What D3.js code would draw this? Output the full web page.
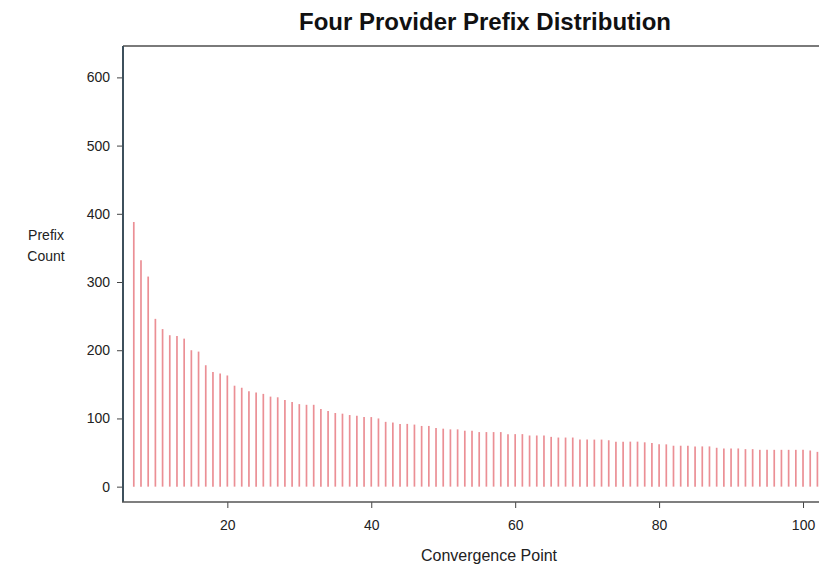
<!DOCTYPE html>
<html>
<head>
<meta charset="utf-8">
<script src="https://cdn.jsdelivr.net/npm/d3@7"></script>
<style>
  body { margin: 0; background: #fff; }
  text { font-family: "Liberation Sans", Arial, sans-serif; }
</style>
</head>
<body>
<div id="my_dataviz"></div>
<script>

// convergence points start at 7, one bar per point
var firstPoint = 7;
var counts = [388, 332, 308, 246, 231, 222, 221, 217, 200, 198,
              178, 168, 166, 163, 148, 145, 140, 138, 136, 132,
              131, 127, 124, 121, 120, 120, 114, 111, 108, 107,
              105, 104, 102, 102, 100, 95, 94, 92, 92, 91,
              89, 89, 86, 85, 84, 84, 82, 82, 80, 80,
              80, 80, 77, 77, 77, 75, 75, 75, 73, 72,
              72, 72, 69, 69, 69, 69, 68, 66, 66, 66,
              66, 65, 64, 62, 62, 60, 60, 60, 59, 59,
              59, 57, 56, 56, 56, 55, 55, 54, 54, 54,
              54, 54, 54, 54, 53, 51];
var points = d3.range(firstPoint, firstPoint + counts.length);

var xTicks = [20, 40, 60, 80, 100];
var yTicks = [0, 100, 200, 300, 400, 500, 600];

// set the dimensions and margins of the graph
var margin = {top: 46, right: 0, bottom: 65, left: 123},
  width = 716,
  height = 567 - margin.top - margin.bottom;

var svg = d3.select("#my_dataviz")
.append("svg")
  .attr("width", 819)
  .attr("height", 567)
.append("g")
  .attr("transform", "translate(" + margin.left + "," + margin.top + ")");

var x = d3.scaleLinear()
  .domain([5.5, 105])
  .range([0, width]);

var y = d3.scaleLinear()
  .domain([-22.5, 646])
  .range([height, 0]);

// bars (drawn as thin lines from zero)
svg.selectAll("line.bar")
  .data(points)
  .enter()
  .append("line")
    .attr("class", "bar")
    .attr("x1", function(d){ return x(d) })
    .attr("x2", function(d){ return x(d) })
    .attr("y1", y(0))
    .attr("y2", function(d, i){ return y(counts[i]) })
    .style("stroke", "#eb8f95")
    .style("stroke-width", 1.7);

// frame
svg.append("line")
  .attr("x1", 0).attr("x2", width + 10)
  .attr("y1", 0).attr("y2", 0)
  .style("stroke", "#7a7a7a")
  .style("stroke-width", 2);

// y axis
var yAxis = svg.append("g")
  .call(d3.axisLeft(y).tickValues(yTicks).tickSize(6).tickPadding(7));
yAxis.select(".domain").remove();
yAxis.selectAll(".tick line").style("stroke", "#444");
yAxis.selectAll("text")
  .attr("font-size", 14)
  .attr("font-family", "Liberation Sans, Arial, sans-serif")
  .style("fill", "#222");

svg.append("line")
  .attr("x1", 0).attr("x2", 0)
  .attr("y1", 0).attr("y2", height)
  .style("stroke", "#3e505c")
  .style("stroke-width", 2);

// x axis
var xAxis = svg.append("g")
  .attr("transform", "translate(0," + height + ")")
  .call(d3.axisBottom(x).tickValues(xTicks).tickSize(6).tickPadding(12));
xAxis.select(".domain").remove();
xAxis.selectAll(".tick line").style("stroke", "#444");
xAxis.selectAll("text")
  .attr("font-size", 14)
  .attr("font-family", "Liberation Sans, Arial, sans-serif")
  .style("fill", "#222");

svg.append("line")
  .attr("x1", -1).attr("x2", width + 10)
  .attr("y1", height).attr("y2", height)
  .style("stroke", "#555")
  .style("stroke-width", 1.5);

// labels
var root = d3.select("svg");

root.append("text")
  .text("Four Provider Prefix Distribution")
  .attr("x", 485)
  .attr("y", 30)
  .attr("text-anchor", "middle")
  .attr("font-size", 24)
  .attr("font-weight", "bold")
  .style("fill", "#111");

root.append("text")
  .text("Convergence Point")
  .attr("x", 489)
  .attr("y", 561)
  .attr("text-anchor", "middle")
  .attr("font-size", 16)
  .style("fill", "#222");

root.append("text")
  .text("Prefix")
  .attr("x", 46)
  .attr("y", 240)
  .attr("text-anchor", "middle")
  .attr("font-size", 14)
  .style("fill", "#222");

root.append("text")
  .text("Count")
  .attr("x", 46)
  .attr("y", 261)
  .attr("text-anchor", "middle")
  .attr("font-size", 14)
  .style("fill", "#222");

</script>
</body>
</html>
